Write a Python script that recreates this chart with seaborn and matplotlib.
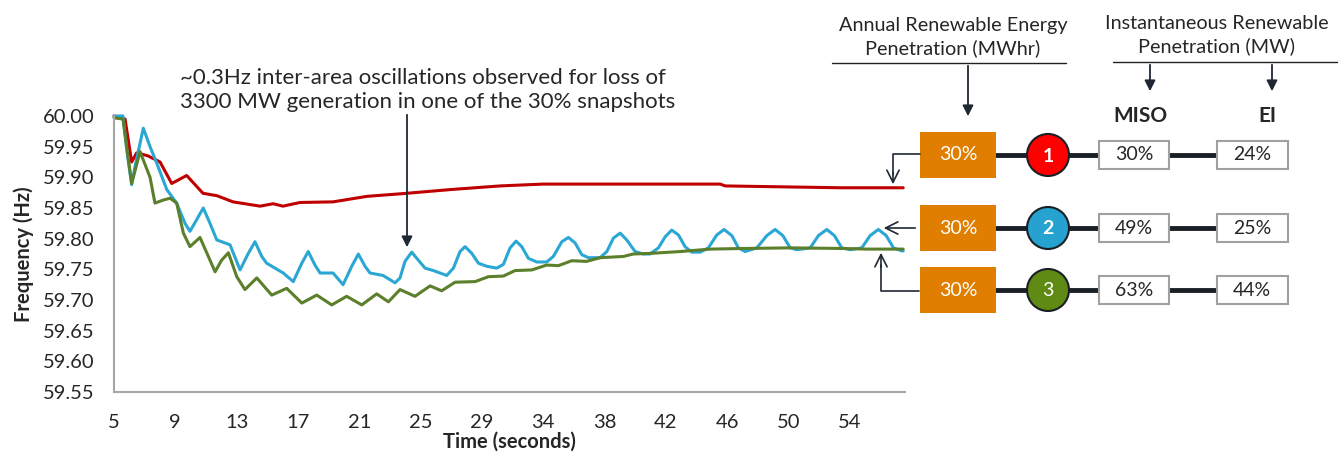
import matplotlib.pyplot as plt
import matplotlib.patches as mpatches
import seaborn as sns
import pandas as pd

# frequency response for the three 30% snapshots
t_red = [5.00, 5.74, 6.18, 6.52, 7.27, 8.08, 8.86, 9.86, 10.95, 11.89, 12.96, 14.77,
         15.64, 16.30, 17.44, 19.65, 21.92, 24.60, 27.47, 30.82, 33.70, 45.54, 45.87,
         53.56, 57.78]
f_red = [60.000, 59.995, 59.925, 59.940, 59.935, 59.925, 59.890, 59.903, 59.874, 59.870,
         59.860, 59.853, 59.857, 59.853, 59.859, 59.860, 59.869, 59.874, 59.880, 59.886,
         59.889, 59.889, 59.886, 59.883, 59.883]

t_blue = [5.00, 5.60, 5.85, 6.18, 6.40, 6.96, 7.41, 7.86, 8.53, 9.19, 9.75, 10.08, 10.53,
          10.97, 11.42, 11.87, 12.76, 13.43, 13.98, 14.43, 14.88, 15.21, 16.32, 16.99,
          17.56, 17.99, 18.44, 18.78, 19.65, 20.32, 20.90, 21.34, 21.79, 22.12, 22.99,
          23.80, 24.13, 24.46, 24.91, 25.35, 25.80, 26.36, 27.25, 27.70, 28.14, 28.48,
          28.93, 29.37, 29.93, 30.60, 31.04, 31.49, 31.89, 32.27, 32.71, 33.27, 33.94,
          34.38, 34.95, 35.39, 35.84, 36.28, 36.73, 37.51, 37.96, 38.40, 38.85, 39.29,
          39.85, 40.40, 40.85, 41.41, 41.86, 42.30, 42.75, 43.19, 43.64, 44.20, 44.75,
          45.31, 45.80, 46.32, 46.76, 47.21, 47.99, 48.66, 49.21, 49.73, 50.22, 50.67,
          51.56, 52.11, 52.67, 53.18, 53.67, 54.23, 55.01, 55.57, 56.12, 56.64, 57.13,
          57.69, 57.78]
f_blue = [60.000, 60.000, 59.945, 59.888, 59.917, 59.980, 59.950, 59.923, 59.880, 59.858,
          59.825, 59.812, 59.831, 59.850, 59.825, 59.798, 59.790, 59.749, 59.776, 59.795,
          59.771, 59.760, 59.744, 59.730, 59.760, 59.779, 59.757, 59.744, 59.744, 59.725,
          59.755, 59.775, 59.755, 59.744, 59.740, 59.728, 59.736, 59.763, 59.778, 59.765,
          59.752, 59.748, 59.740, 59.752, 59.779, 59.787, 59.776, 59.760, 59.755, 59.752,
          59.758, 59.785, 59.796, 59.787, 59.768, 59.762, 59.762, 59.771, 59.795, 59.802,
          59.793, 59.774, 59.769, 59.769, 59.779, 59.801, 59.809, 59.798, 59.779, 59.775,
          59.775, 59.785, 59.803, 59.814, 59.806, 59.787, 59.778, 59.778, 59.785, 59.806,
          59.815, 59.805, 59.785, 59.779, 59.785, 59.805, 59.815, 59.805, 59.785, 59.782,
          59.785, 59.805, 59.815, 59.805, 59.785, 59.782, 59.785, 59.805, 59.815, 59.805,
          59.785, 59.780, 59.780]

t_green = [5.00, 5.60, 5.85, 6.18, 6.40, 6.74, 7.41, 7.74, 8.30, 8.75, 9.19, 9.64, 10.08,
           10.75, 11.31, 11.76, 12.20, 12.65, 13.21, 13.76, 14.55, 15.55, 16.55, 17.56,
           18.56, 19.56, 20.56, 21.57, 22.57, 23.35, 24.13, 25.13, 26.14, 26.91, 27.81,
           29.15, 30.04, 31.04, 31.82, 32.94, 33.94, 34.72, 35.61, 36.61, 37.51, 39.07,
           39.73, 40.85, 42.86, 44.87, 47.09, 50.22, 53.78, 55.34, 57.78]
f_green = [59.997, 59.995, 59.950, 59.890, 59.910, 59.942, 59.900, 59.858, 59.863, 59.866,
           59.858, 59.809, 59.787, 59.802, 59.771, 59.746, 59.765, 59.777, 59.738, 59.717,
           59.736, 59.708, 59.719, 59.695, 59.708, 59.692, 59.706, 59.692, 59.710, 59.697,
           59.717, 59.706, 59.723, 59.715, 59.729, 59.730, 59.738, 59.739, 59.748, 59.749,
           59.757, 59.756, 59.764, 59.763, 59.769, 59.771, 59.775, 59.776, 59.779, 59.783,
           59.784, 59.785, 59.784, 59.783, 59.783]

tick_pos = [5.0, 9.1, 13.2, 17.3, 21.4, 25.5, 29.6, 33.7, 37.8, 41.9, 46.0, 50.1, 54.2]
tick_labels = ['5', '9', '13', '17', '21', '25', '29', '34', '38', '42', '46', '50', '54']
y_ticks = [59.55, 59.60, 59.65, 59.70, 59.75, 59.80, 59.85, 59.90, 59.95, 60.00]

# right-hand table
scenarios = ['1', '2', '3']
annual = ['30%', '30%', '30%']
miso = ['30%', '49%', '63%']
ei = ['24%', '25%', '44%']

RED, BLUE, GREEN = '#C00000', '#2AA7D4', '#5B7F2A'
circle_colors = ['#FF0000', '#25A2CF', '#5F8A14']
ORANGE = '#E07E00'
TXT = '#262626'

sns.set_theme(style="white")
plt.rcParams['font.family'] = ['Lato', 'DejaVu Sans']

fig = plt.figure(figsize=(13.43, 4.55), dpi=100)
W, H = 1343, 455
ax = fig.add_axes([114 / W, 1 - 392 / H, (905 - 114) / W, (392 - 116) / H])

for t, f, c in [(t_red, f_red, RED), (t_blue, f_blue, BLUE), (t_green, f_green, GREEN)]:
    df = pd.DataFrame({'t': t, 'f': f})
    sns.lineplot(data=df, x='t', y='f', ax=ax, color=c, lw=2.2, estimator=None,
                 sort=False, clip_on=False)

ax.set_xlim(5, 57.9)
ax.set_ylim(59.55, 60.0)
ax.set_xticks(tick_pos)
ax.set_xticklabels(tick_labels)
ax.set_yticks(y_ticks)
ax.set_yticklabels([f'{v:.2f}' for v in y_ticks])
ax.tick_params(axis='both', length=0, labelsize=14.5, colors=TXT)
ax.tick_params(axis='x', pad=16)
ax.tick_params(axis='y', pad=14)
for s in ['top', 'right']:
    ax.spines[s].set_visible(False)
for s in ['left', 'bottom']:
    ax.spines[s].set_color('#A6A6A6')
    ax.spines[s].set_linewidth(1.5)
ax.set_xlabel('Time (seconds)', fontsize=14.5, fontweight='bold', color=TXT, labelpad=0)
ax.set_ylabel('Frequency (Hz)', fontsize=14.5, fontweight='bold', color=TXT, labelpad=6)

# overlay in pixel coordinates for the annotation and diagram
ov = fig.add_axes([0, 0, 1, 1], facecolor='none')
ov.set_xlim(0, W)
ov.set_ylim(H, 0)
ov.axis('off')

ov.text(180, 90, '~0.3Hz inter-area oscillations observed for loss of\n'
        '3300 MW generation in one of the 30% snapshots',
        fontsize=16, color=TXT, ha='left', va='center', linespacing=1.2)
ov.annotate('', xy=(407, 250), xytext=(407, 112),
            arrowprops=dict(arrowstyle='-|>', color='#1F2733', lw=1.3, mutation_scale=16))

# column headers
ov.text(953, 37, 'Annual Renewable Energy\nPenetration (MWhr)', fontsize=14.3,
        color=TXT, ha='center', va='center', linespacing=1.3)
ov.plot([832, 1066], [63, 63], color='#222222', lw=1)
ov.annotate('', xy=(968, 119), xytext=(968, 63),
            arrowprops=dict(arrowstyle='-|>', color='#1F2733', lw=1.3, mutation_scale=16))
ov.text(1217, 35, 'Instantaneous Renewable\nPenetration (MW)', fontsize=14.3,
        color=TXT, ha='center', va='center', linespacing=1.3)
ov.plot([1113, 1337], [62, 62], color='#222222', lw=1)
for xa in [1150, 1272]:
    ov.annotate('', xy=(xa, 94), xytext=(xa, 62),
                arrowprops=dict(arrowstyle='-|>', color='#1F2733', lw=1.3, mutation_scale=16))
ov.text(1140, 116, 'MISO', fontsize=15, fontweight='bold', color=TXT, ha='center', va='center')
ov.text(1267, 116, 'EI', fontsize=15, fontweight='bold', color=TXT, ha='center', va='center')

rows_y = [155, 228, 290]
for i, yc in enumerate(rows_y):
    # connector line behind everything
    ov.plot([996, 1253], [yc, yc], color='#1A1F26', lw=3.5, zorder=1)
    ov.add_patch(mpatches.Rectangle((920, yc - 23), 76, 46, facecolor=ORANGE,
                                    edgecolor='none', zorder=2))
    ov.text(958, yc, annual[i], color='white', fontsize=14, ha='center', va='center', zorder=3)
    ov.add_patch(mpatches.Ellipse((1048, yc), 42, 42, facecolor=circle_colors[i],
                                  edgecolor='#1A1F26', lw=1.5, zorder=2))
    ov.text(1048, yc + 1, scenarios[i], color='white', fontsize=14,
            fontweight='bold' if i < 2 else 'normal', ha='center', va='center', zorder=3)
    ov.add_patch(mpatches.Rectangle((1099, yc - 14), 70, 28, facecolor='white',
                                    edgecolor='#A0A0A0', lw=1.5, zorder=2))
    ov.text(1134, yc, miso[i], color=TXT, fontsize=14, ha='center', va='center', zorder=3)
    ov.add_patch(mpatches.Rectangle((1217, yc - 14), 71, 28, facecolor='white',
                                    edgecolor='#A0A0A0', lw=1.5, zorder=2))
    ov.text(1252, yc, ei[i], color=TXT, fontsize=14, ha='center', va='center', zorder=3)

# arrows from the boxes to the curve ends
arr = dict(arrowstyle='->', color='#1F2733', lw=1.2, mutation_scale=22)
ov.plot([920, 893, 893], [154, 154, 175], color='#1F2733', lw=1.2)
ov.annotate('', xy=(893, 187), xytext=(893, 170), arrowprops=arr)
ov.annotate('', xy=(881, 228), xytext=(918, 228), arrowprops=arr)
ov.plot([919, 881, 881], [291, 291, 265], color='#1F2733', lw=1.2)
ov.annotate('', xy=(881, 250), xytext=(881, 270), arrowprops=arr)

plt.savefig('out.png', dpi=100)
